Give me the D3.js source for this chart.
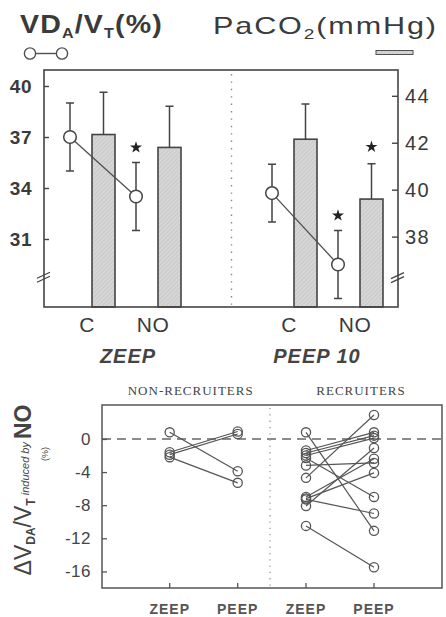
<!DOCTYPE html>
<html><head><meta charset="utf-8">
<script src="https://cdn.jsdelivr.net/npm/d3@7"></script>
<style>
html,body{margin:0;padding:0;background:#fff;}
svg{display:block;font-family:"Liberation Sans",Arial,sans-serif;}
</style></head><body>
<svg id="chart" width="446" height="617"></svg>
<script>
// ---- Upper panel: VDA/VT (circles, left axis) and PaCO2 (bars, right axis)
const groups = ["ZEEP", "PEEP 10"];
const conditions = ["C", "NO"];
// order of the four cells: ZEEP-C, ZEEP-NO, PEEP-C, PEEP-NO
const vdMean = [37.0, 33.5, 33.7, 29.5];
const vdSD = [2.0, 2.0, 1.7, 2.0];
const vdSignif = [false, true, false, true];
const pacoMean = [42.35, 41.8, 42.15, 39.6];
const pacoSD = [1.8, 1.75, 1.5, 1.5];
const pacoSignif = [false, false, false, true];
const leftTicks = [31, 34, 37, 40];
const rightTicks = [38, 40, 42, 44];

// ---- Lower panel: individual change of VDA/VT induced by NO
const panelTitles = ["NON-RECRUITERS", "RECRUITERS"];
const phaseLabels = ["ZEEP", "PEEP"];
const nonRecZeep = [0.8, -1.6, -1.9, -2.2];
const nonRecPeep = [-3.9, 0.9, 0.6, -5.3];
const recZeep = [0.8, -1.4, -1.7, -2.0, -2.3, -3.2, -4.7, -7.0, -7.2, -7.3, -8.1, -10.5];
const recPeep = [-11.1, 0.8, 0.4, 0.1, -7.0, -2.9, 2.9, -2.4, -4.1, -9.0, -1.1, -15.5];
const deltaTicks = [0, -4, -8, -12, -16];

const ink = "#3a3a3a", line = "#505050";
const svg = d3.select("#chart");

const defs = svg.append("defs");
const pat = defs.append("pattern").attr("id", "hatch")
  .attr("patternUnits", "userSpaceOnUse").attr("width", 3).attr("height", 3)
  .attr("patternTransform", "rotate(45)");
pat.append("rect").attr("width", 3).attr("height", 3).attr("fill", "#d6d6d6");
pat.append("line").attr("x1", 0).attr("y1", 0).attr("x2", 0).attr("y2", 3)
  .attr("stroke", "#bdbdbd").attr("stroke-width", 1);

// stretch a header text horizontally so it spans a given width
function stretchTo(sel, x, y, width) {
  const w = sel.node().getBBox().width;
  sel.attr("transform", `translate(${x},${y}) scale(${width / w},1)`);
}

// ================= upper panel =================
const upper = {l: 44, r: 398, t: 70, b: 307};
const xGroup = d3.scalePoint().domain(groups).range([120, 322]);
const xCond = d3.scalePoint().domain(conditions).range([-33, 33]);
const yLeft = d3.scaleLinear().domain([27, 41]).range([upper.b, 69]);
const yRight = d3.scaleLinear().domain([35, 45.1]).range([upper.b, upper.t]);
const circleShift = -17, barShift = 16.5, barW = 23, capW = 8;

const cells = [];
groups.forEach(g => conditions.forEach(c => cells.push({g, c})));
cells.forEach((d, i) => {
  d.cx = xGroup(d.g) + xCond(d.c);
  d.vd = vdMean[i]; d.vdSD = vdSD[i]; d.vdSig = vdSignif[i];
  d.pa = pacoMean[i]; d.paSD = pacoSD[i]; d.paSig = pacoSignif[i];
});

// header labels
const h1 = svg.append("text").attr("font-size", 25).attr("font-weight", "bold")
  .attr("letter-spacing", 1).attr("fill", ink);
h1.append("tspan").text("VD");
h1.append("tspan").attr("font-size", 14).attr("dy", 5).text("A");
h1.append("tspan").attr("dy", -5).text("/V");
h1.append("tspan").attr("font-size", 14).attr("dy", 5).text("T");
h1.append("tspan").attr("dy", -5).text("(%)");
stretchTo(h1, 20, 33, 143);

const h2 = svg.append("text").attr("font-size", 24).attr("letter-spacing", 1.5).attr("fill", ink);
h2.append("tspan").text("PaCO");
h2.append("tspan").attr("font-size", 15).attr("dy", 5).text("2");
h2.append("tspan").attr("dy", -5).text("(mmHg)");
stretchTo(h2, 213, 34, 225);

// legend keys
svg.append("line").attr("x1", 30).attr("x2", 62).attr("y1", 53.5).attr("y2", 53.5)
  .attr("stroke", line).attr("stroke-width", 1.4);
svg.selectAll("circle.key").data([30, 62]).join("circle").attr("class", "key")
  .attr("cx", d => d).attr("cy", 53.5).attr("r", 5.6)
  .attr("fill", "#fff").attr("stroke", line).attr("stroke-width", 1.4);
svg.append("rect").attr("x", 376).attr("y", 50.5).attr("width", 37).attr("height", 4)
  .attr("fill", "url(#hatch)").attr("stroke", line).attr("stroke-width", 1);

// divider
svg.append("line").attr("x1", 231.5).attr("x2", 231.5).attr("y1", upper.t + 4).attr("y2", upper.b - 2)
  .attr("stroke", "#888").attr("stroke-width", 1.4).attr("stroke-dasharray", "1.4,6");

// bars
const bars = svg.append("g");
bars.selectAll("rect").data(cells).join("rect")
  .attr("x", d => d.cx + barShift - barW / 2).attr("width", barW)
  .attr("y", d => yRight(d.pa)).attr("height", d => yRight(35) - yRight(d.pa))
  .attr("fill", "url(#hatch)").attr("stroke", "#444").attr("stroke-width", 1.6);
bars.selectAll("path.err").data(cells).join("path").attr("class", "err")
  .attr("d", d => {
    const x = d.cx + barShift, y0 = yRight(d.pa), y1 = yRight(d.pa + d.paSD);
    return `M${x},${y0}V${y1}M${x - capW / 2},${y1}H${x + capW / 2}`;
  })
  .attr("fill", "none").attr("stroke", "#444").attr("stroke-width", 1.5);

// VDA/VT: error bars, connecting lines, circles
const vdG = svg.append("g");
vdG.selectAll("path.err").data(cells).join("path").attr("class", "err")
  .attr("d", d => {
    const x = d.cx + circleShift, y0 = yLeft(d.vd - d.vdSD), y1 = yLeft(d.vd + d.vdSD);
    return `M${x},${y0}V${y1}M${x - capW / 2},${y1}H${x + capW / 2}M${x - capW / 2},${y0}H${x + capW / 2}`;
  })
  .attr("fill", "none").attr("stroke", "#444").attr("stroke-width", 1.5);
groups.forEach(g => {
  const pts = cells.filter(d => d.g === g);
  vdG.append("path")
    .attr("d", d3.line().x(d => d.cx + circleShift).y(d => yLeft(d.vd))(pts))
    .attr("fill", "none").attr("stroke", line).attr("stroke-width", 1.3);
});
vdG.selectAll("circle").data(cells).join("circle")
  .attr("cx", d => d.cx + circleShift).attr("cy", d => yLeft(d.vd)).attr("r", 6.3)
  .attr("fill", "#fff").attr("stroke", "#444").attr("stroke-width", 1.5);

// significance stars
const star = d3.symbol().type(d3.symbolStar).size(45);
svg.selectAll("path.starV").data(cells.filter(d => d.vdSig)).join("path").attr("class", "starV")
  .attr("transform", d => `translate(${d.cx + circleShift},${yLeft(d.vd + d.vdSD) - 15})`)
  .attr("d", star).attr("fill", "#222");
svg.selectAll("path.starP").data(cells.filter(d => d.paSig)).join("path").attr("class", "starP")
  .attr("transform", d => `translate(${d.cx + barShift},${yRight(d.pa + d.paSD) - 17})`)
  .attr("d", star).attr("fill", "#222");

// frame
svg.append("rect").attr("x", upper.l).attr("y", upper.t).attr("width", upper.r - upper.l).attr("height", upper.b - upper.t)
  .attr("fill", "none").attr("stroke", "#444").attr("stroke-width", 1.6);

// axes
const axL = svg.append("g").attr("transform", `translate(${upper.l},0)`)
  .call(d3.axisLeft(yLeft).tickValues(leftTicks).tickSize(-5).tickPadding(12));
axL.select(".domain").remove();
axL.selectAll("line").attr("stroke", "#444").attr("stroke-width", 1.4);
axL.selectAll("text").attr("font-size", 19).attr("font-weight", "bold").attr("fill", ink)
  .attr("font-family", "Liberation Sans, Arial, sans-serif").attr("letter-spacing", 0.5);

const axR = svg.append("g").attr("transform", `translate(${upper.r},0)`)
  .call(d3.axisRight(yRight).tickValues(rightTicks).tickSize(-6).tickPadding(7));
axR.select(".domain").remove();
axR.selectAll("line").attr("stroke", "#444").attr("stroke-width", 1.4);
axR.selectAll("text").attr("font-size", 20).attr("fill", ink).attr("letter-spacing", 1.5)
  .attr("font-family", "Liberation Sans, Arial, sans-serif");

// axis breaks
function brk(x, y) {
  svg.append("path")
    .attr("d", `M${x - 7},${y + 1}L${x + 6},${y - 5}M${x - 7},${y + 5}L${x + 6},${y - 1}`)
    .attr("stroke", "#444").attr("stroke-width", 1.3).attr("fill", "none");
}
brk(upper.l, yLeft(28.75));
brk(upper.r, yRight(36.25));

// category labels
svg.selectAll("text.cond").data(cells).join("text").attr("class", "cond")
  .attr("x", d => d.cx).attr("y", 332).attr("text-anchor", "middle")
  .attr("font-size", 21).attr("letter-spacing", 0.5).attr("fill", ink).text(d => d.c);
const groupLabelShift = [8, -5];
svg.selectAll("text.grp").data(groups).join("text").attr("class", "grp")
  .attr("x", (d, i) => xGroup(d) + groupLabelShift[i]).attr("y", 363).attr("text-anchor", "middle")
  .attr("font-size", 20).attr("font-style", "italic").attr("font-weight", "bold")
  .attr("letter-spacing", 1).attr("fill", "#444").text(d => d);

// ================= lower panel =================
const bot = {l: 102, r: 442, t: 405, b: 588};
const xPanel = d3.scalePoint().domain(panelTitles).range([203.7, 340]);
const xPhase = d3.scalePoint().domain(phaseLabels).range([-34, 34]);
const yDelta = d3.scaleLinear().domain([-18, 4.1]).range([bot.b, bot.t]);

const titleShift = [-13, 21];
svg.selectAll("text.ptitle").data(panelTitles).join("text").attr("class", "ptitle")
  .attr("x", (d, i) => xPanel(d) + titleShift[i]).attr("y", 395).attr("text-anchor", "middle")
  .attr("font-family", "Liberation Serif, Times New Roman, serif").attr("font-size", 13)
  .attr("letter-spacing", 1).attr("fill", "#444").text(d => d);

// zero reference and panel divider
svg.append("line").attr("x1", bot.l).attr("x2", bot.r).attr("y1", yDelta(0)).attr("y2", yDelta(0))
  .attr("stroke", "#666").attr("stroke-width", 1.5).attr("stroke-dasharray", "9,6");
svg.append("line").attr("x1", 270).attr("x2", 270).attr("y1", bot.t + 3).attr("y2", bot.b - 2)
  .attr("stroke", "#999").attr("stroke-width", 1.3).attr("stroke-dasharray", "1.3,5");

const subjects = [];
nonRecZeep.forEach((v, i) => subjects.push({p: panelTitles[0], z: v, e: nonRecPeep[i]}));
recZeep.forEach((v, i) => subjects.push({p: panelTitles[1], z: v, e: recPeep[i]}));
const sx = (d, ph) => xPanel(d.p) + xPhase(ph);

const ind = svg.append("g");
ind.selectAll("line").data(subjects).join("line")
  .attr("x1", d => sx(d, "ZEEP")).attr("y1", d => yDelta(d.z))
  .attr("x2", d => sx(d, "PEEP")).attr("y2", d => yDelta(d.e))
  .attr("stroke", "#555").attr("stroke-width", 1.2);
const pts = [];
subjects.forEach(d => { pts.push({x: sx(d, "ZEEP"), v: d.z}); pts.push({x: sx(d, "PEEP"), v: d.e}); });
ind.selectAll("circle").data(pts).join("circle")
  .attr("cx", d => d.x).attr("cy", d => yDelta(d.v)).attr("r", 4.6)
  .attr("fill", "none").attr("stroke", "#555").attr("stroke-width", 1.3);

svg.append("rect").attr("x", bot.l).attr("y", bot.t).attr("width", bot.r - bot.l).attr("height", bot.b - bot.t)
  .attr("fill", "none").attr("stroke", "#555").attr("stroke-width", 1.5);

const axD = svg.append("g").attr("transform", `translate(${bot.l},0)`)
  .call(d3.axisLeft(yDelta).tickValues(deltaTicks).tickSize(-5).tickPadding(11).tickFormat(d => String(d)));
axD.select(".domain").remove();
axD.selectAll("line").attr("stroke", "#555").attr("stroke-width", 1.3);
axD.selectAll("text").attr("font-size", 17).attr("fill", "#444").attr("letter-spacing", 0.5)
  .attr("font-family", "Liberation Sans, Arial, sans-serif");

const phaseTicks = [];
panelTitles.forEach(p => phaseLabels.forEach(ph => phaseTicks.push({p, ph})));
svg.selectAll("line.ptick").data(phaseTicks).join("line").attr("class", "ptick")
  .attr("x1", d => xPanel(d.p) + xPhase(d.ph)).attr("x2", d => xPanel(d.p) + xPhase(d.ph))
  .attr("y1", bot.b).attr("y2", bot.b - 5).attr("stroke", "#555").attr("stroke-width", 1.3);
svg.selectAll("text.ptick").data(phaseTicks).join("text").attr("class", "ptick")
  .attr("x", d => xPanel(d.p) + xPhase(d.ph)).attr("y", 614).attr("text-anchor", "middle")
  .attr("font-size", 14).attr("font-weight", "bold").attr("letter-spacing", 1)
  .attr("fill", "#555").text(d => d.ph);

// rotated y-axis title
const yt = svg.append("g").attr("transform", "translate(31,490) rotate(-90)");
const t1 = yt.append("text").attr("text-anchor", "middle").attr("fill", "#444").attr("font-size", 23);
t1.append("tspan").text("\u0394V");
t1.append("tspan").attr("font-size", 12).attr("font-weight", "bold").attr("dy", 4).text("DA");
t1.append("tspan").attr("dy", -4).text("/V");
t1.append("tspan").attr("font-size", 12).attr("font-weight", "bold").attr("dy", 4).text("T");
t1.append("tspan").attr("dy", -6).attr("font-size", 11).attr("font-style", "italic").text(" induced by ");
t1.append("tspan").attr("dy", 2).attr("font-size", 23).attr("font-weight", "bold").text("NO");
yt.append("text").attr("x", 36).attr("y", 17).attr("text-anchor", "middle")
  .attr("font-size", 9).attr("fill", "#444").text("(%)");
</script>
</body></html>
